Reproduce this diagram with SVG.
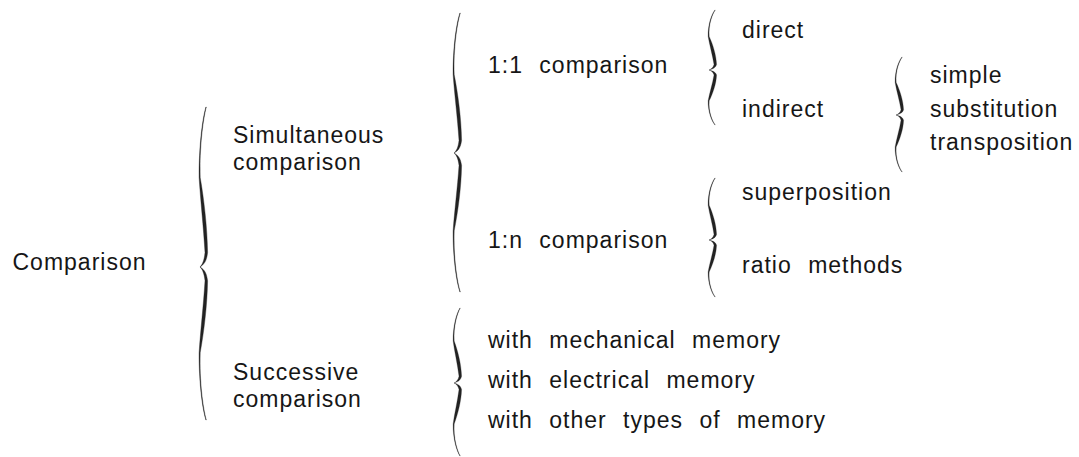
<svg xmlns="http://www.w3.org/2000/svg" xmlns:xlink="http://www.w3.org/1999/xlink" width="1079" height="457" viewBox="0 0 1079 457">
  <style>
    .lbl { font-family: "Liberation Sans", Arial, Helvetica, sans-serif; font-size: 23px; fill: #161616; letter-spacing: 1px; word-spacing: 9px; }
    .brace { fill: #222222; stroke: #222222; stroke-width: 0.3; }
  </style>
  <defs>
    <!-- one half of a curly brace: tip at the origin, free end at y = -100 -->
    <path id="braceHalf" d="M0,0 C3.5,-1.5 6.5,-3 7.6,-9 C7.2,-25 4,-42 0.2,-56 C-0.6,-75 3,-92 6.3,-100 L5.9,-100 C2.2,-92 -1.1,-75 -0.9,-56 C0.5,-42 3.5,-25 5,-9 C4.2,-4 2.4,-1.5 0,0 Z"/>
  </defs>

  <rect width="1079" height="457" fill="#ffffff"/>

  <g id="connectors">
    <!-- Comparison -->
    <use class="brace" xlink:href="#braceHalf" href="#braceHalf" transform="translate(200,267) scale(1,1.6)"/>
    <use class="brace" xlink:href="#braceHalf" href="#braceHalf" transform="translate(200,267) scale(1,-1.53)"/>
    <!-- Simultaneous comparison -->
    <use class="brace" xlink:href="#braceHalf" href="#braceHalf" transform="translate(454,153) scale(1,1.4)"/>
    <use class="brace" xlink:href="#braceHalf" href="#braceHalf" transform="translate(454,153) scale(1,-1.39)"/>
    <!-- Successive comparison -->
    <use class="brace" xlink:href="#braceHalf" href="#braceHalf" transform="translate(454,383) scale(1,0.75)"/>
    <use class="brace" xlink:href="#braceHalf" href="#braceHalf" transform="translate(454,383) scale(1,-0.73)"/>
    <!-- 1:1 comparison -->
    <use class="brace" xlink:href="#braceHalf" href="#braceHalf" transform="translate(709,70) scale(1,0.6)"/>
    <use class="brace" xlink:href="#braceHalf" href="#braceHalf" transform="translate(709,70) scale(1,-0.55)"/>
    <!-- indirect -->
    <use class="brace" xlink:href="#braceHalf" href="#braceHalf" transform="translate(896,115) scale(1,0.58)"/>
    <use class="brace" xlink:href="#braceHalf" href="#braceHalf" transform="translate(896,115) scale(1,-0.57)"/>
    <!-- 1:n comparison -->
    <use class="brace" xlink:href="#braceHalf" href="#braceHalf" transform="translate(709,240) scale(1,0.62)"/>
    <use class="brace" xlink:href="#braceHalf" href="#braceHalf" transform="translate(709,240) scale(1,-0.57)"/>
  </g>

  <g id="comparison"><text class="lbl" x="12.5" y="270">Comparison</text></g>
  <g id="simultaneous">
    <text class="lbl" x="233" y="143">Simultaneous</text>
    <text class="lbl" x="233" y="170">comparison</text>
  </g>
  <g id="successive">
    <text class="lbl" x="233" y="380">Successive</text>
    <text class="lbl" x="233" y="407">comparison</text>
  </g>
  <g id="one-to-one"><text class="lbl" x="488" y="73">1:1 comparison</text></g>
  <g id="one-to-n"><text class="lbl" x="488" y="248">1:n comparison</text></g>
  <g id="direct"><text class="lbl" x="742" y="38">direct</text></g>
  <g id="indirect"><text class="lbl" x="742" y="117">indirect</text></g>
  <g id="simple"><text class="lbl" x="930" y="83">simple</text></g>
  <g id="substitution"><text class="lbl" x="930" y="117">substitution</text></g>
  <g id="transposition"><text class="lbl" x="930" y="150">transposition</text></g>
  <g id="superposition"><text class="lbl" x="742" y="200">superposition</text></g>
  <g id="ratio-methods"><text class="lbl" x="742" y="273">ratio methods</text></g>
  <g id="mechanical-memory"><text class="lbl" x="488" y="348">with mechanical memory</text></g>
  <g id="electrical-memory"><text class="lbl" x="488" y="388">with electrical memory</text></g>
  <g id="other-memory"><text class="lbl" x="488" y="428">with other types of memory</text></g>
</svg>
